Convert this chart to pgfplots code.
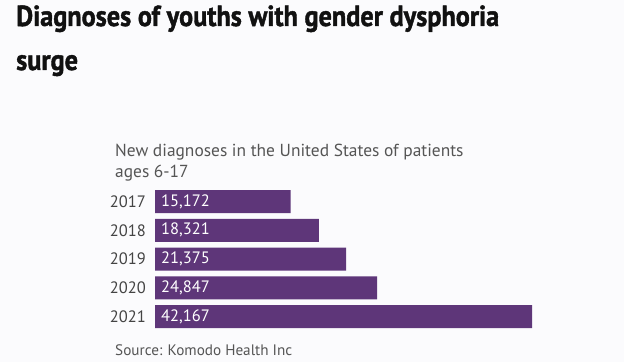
\documentclass[border=0pt]{standalone}
\usepackage{fontspec}
\setmainfont{PT Sans}
\newfontfamily\titlefont[FakeBold=1.5]{PT Sans Bold}
\usepackage{pgfplots}
\usepackage{pgfplotstable}
\pgfplotsset{compat=1.18}
\definecolor{bgcol}{HTML}{FBFBFD}
\definecolor{barcol}{HTML}{5E3679}
\definecolor{titlecol}{HTML}{111111}
\definecolor{subcol}{HTML}{555555}
\definecolor{yearcol}{HTML}{444444}
\pgfplotstableread{
idx year val
0 2017 15172
1 2018 18321
2 2019 21375
3 2020 24847
4 2021 42167
}\data
\begin{document}
\begin{tikzpicture}[x=1pt,y=1pt]
\fill[bgcol] (0,0) rectangle (624,362);
\useasboundingbox (0,0) rectangle (624,362);
\node[anchor=base west, inner sep=0pt, text=titlecol, font=\fontsize{29}{34}\titlefont] at (16,336) {\scalebox{0.905}[1]{Diagnoses of youths with gender dysphoria}};
\node[anchor=base west, inner sep=0pt, text=titlecol, font=\fontsize{29}{34}\titlefont] at (16,292) {\scalebox{0.905}[1]{surge}};
\node[anchor=base west, inner sep=0pt, text=subcol, font=\fontsize{17.4}{20}\selectfont] at (115,205) {New diagnoses in the United States of patients};
\node[anchor=base west, inner sep=0pt, text=subcol, font=\fontsize{17.4}{20}\selectfont] at (115,184) {ages 6-17};
\node[anchor=base west, inner sep=0pt, text=subcol, font=\fontsize{15.2}{18}\selectfont] at (115,7) {Source: Komodo Health Inc};
\begin{axis}[
  at={(155pt,31.125pt)}, anchor=south west, scale only axis,
  width=377pt, height=143.75pt,
  xmin=0, xmax=42167, ymin=-0.5, ymax=4.5, y dir=reverse,
  axis line style={draw=none}, xtick=\empty,
  ytick={0,1,2,3,4}, yticklabels={\mbox{2017},\mbox{2018},\mbox{2019},\mbox{2020},\mbox{2021}},
  /pgf/number format/assume math mode=true,
  major tick length=0pt, tick style={draw=none},
  yticklabel style={font=\fontsize{16.5}{19}\selectfont, text=yearcol, inner sep=0pt, xshift=-9pt},
  clip=false,
]
\addplot[xbar, bar width=23pt, fill=barcol, draw=none] table[x=val, y=idx] {\data};
\addplot[draw=none, mark=none, point meta=\thisrow{val},
  nodes near coords={\pgfmathprintnumber[fixed, precision=0, 1000 sep={,}, assume math mode=true]{\pgfplotspointmeta}},
  nodes near coords style={anchor=west, inner sep=0pt, xshift=6pt, text=white, font=\fontsize{16.5}{19}\selectfont}]
  table[x expr=0, y=idx] {\data};
\end{axis}
\end{tikzpicture}
\end{document}
